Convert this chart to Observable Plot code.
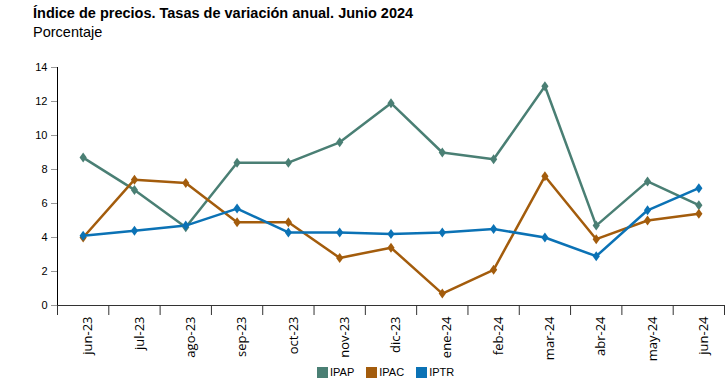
<!DOCTYPE html>
<html><head><meta charset="utf-8">
<script src="https://cdn.jsdelivr.net/npm/d3@7"></script>
<script src="https://cdn.jsdelivr.net/npm/@observablehq/plot@0.6"></script>
<style>
body{margin:0;background:#fff;font-family:"Liberation Sans",Arial,sans-serif;color:#000;}
#wrap{position:relative;width:725px;height:390px;overflow:hidden;}
#title{position:absolute;left:33px;top:5px;font-weight:bold;font-size:14.5px;line-height:17px;white-space:nowrap;}
#subtitle{position:absolute;left:33px;top:24px;font-size:14.5px;line-height:17px;}
#chart{position:absolute;left:0;top:45px;}
#chart svg{overflow:visible;}
#legend{position:absolute;top:366px;left:317px;display:flex;font-size:11px;line-height:13px;z-index:2;}
.item{display:flex;align-items:center;margin-right:12px;}
.sw{width:11px;height:11px;margin-right:2px;}
</style></head>
<body><div id="wrap">
<div id="title">Índice de precios. Tasas de variación anual. Junio 2024</div>
<div id="subtitle">Porcentaje</div>
<div id="chart"></div>
<div id="legend"></div>
</div>
<script>
const months = ["jun-23","jul-23","ago-23","sep-23","oct-23","nov-23","dic-23","ene-24","feb-24","mar-24","abr-24","may-24","jun-24"];
const series = ["IPAP","IPAC","IPTR"];
const colors = ["#4a7f74","#a35c0c","#0b72b5"];
const ipap = [8.7,6.8,4.6,8.4,8.4,9.6,11.9,9.0,8.6,12.9,4.7,7.3,5.9];
const ipac = [4.0,7.4,7.2,4.9,4.9,2.8,3.4,0.7,2.1,7.6,3.9,5.0,5.4];
const iptr = [4.1,4.4,4.7,5.7,4.3,4.3,4.2,4.3,4.5,4.0,2.9,5.6,6.9];
const yTicks = [0,2,4,6,8,10,12,14];

const values = [ipap, ipac, iptr];
const rows = [];
series.forEach((s, k) => values[k].forEach((v, i) => rows.push({i, series: s, value: v})));

const tallDiamond = {
  draw(context, size) {
    const r = Math.sqrt(size / Math.PI);
    const w = r * 0.72;
    context.moveTo(0, -r);
    context.lineTo(w, 0);
    context.lineTo(0, r);
    context.lineTo(-w, 0);
    context.closePath();
  }
};

const chart = Plot.plot({
  width: 725, height: 330,
  marginLeft: 57, marginRight: 1, marginTop: 22, marginBottom: 70,
  style: {fontFamily: "Liberation Sans, Arial, sans-serif", background: "none", overflow: "visible"},
  x: {domain: [-0.5, months.length - 0.5], axis: null},
  y: {domain: [0, 14], axis: null},
  color: {domain: series, range: colors},
  marks: [
    Plot.axisY({ticks: yTicks, tickSize: 6, tickPadding: 4, stroke: "#999", fill: "black", fontSize: 11, label: null}),
    Plot.axisX({ticks: d3.range(-0.5, months.length, 1), tickFormat: () => "", tickSize: 10, stroke: "#333", label: null}),
    Plot.ruleY([0], {stroke: "#333"}),
    Plot.ruleX([-0.5], {y1: 0, y2: 14, stroke: "#000"}),
    Plot.text(months, {x: (d, i) => i, text: d => d, frameAnchor: "bottom", rotate: -90, textAnchor: "end", lineAnchor: "middle", dy: 11, dx: 5, fontSize: 13, fontFamily: "Open Sans", fill: "#000"}),
    Plot.line(rows, {x: "i", y: "value", stroke: "series", strokeWidth: 2.5, z: "series"}),
    Plot.dot(rows, {x: "i", y: "value", fill: "series", r: 5, symbol: tallDiamond})
  ]
});
document.getElementById("chart").appendChild(chart);

const legend = document.getElementById("legend");
series.forEach((s, k) => {
  const it = document.createElement("div");
  it.className = "item";
  it.innerHTML = `<div class="sw" style="background:${colors[k]}"></div><span>${s}</span>`;
  legend.appendChild(it);
});
</script>
</body></html>
